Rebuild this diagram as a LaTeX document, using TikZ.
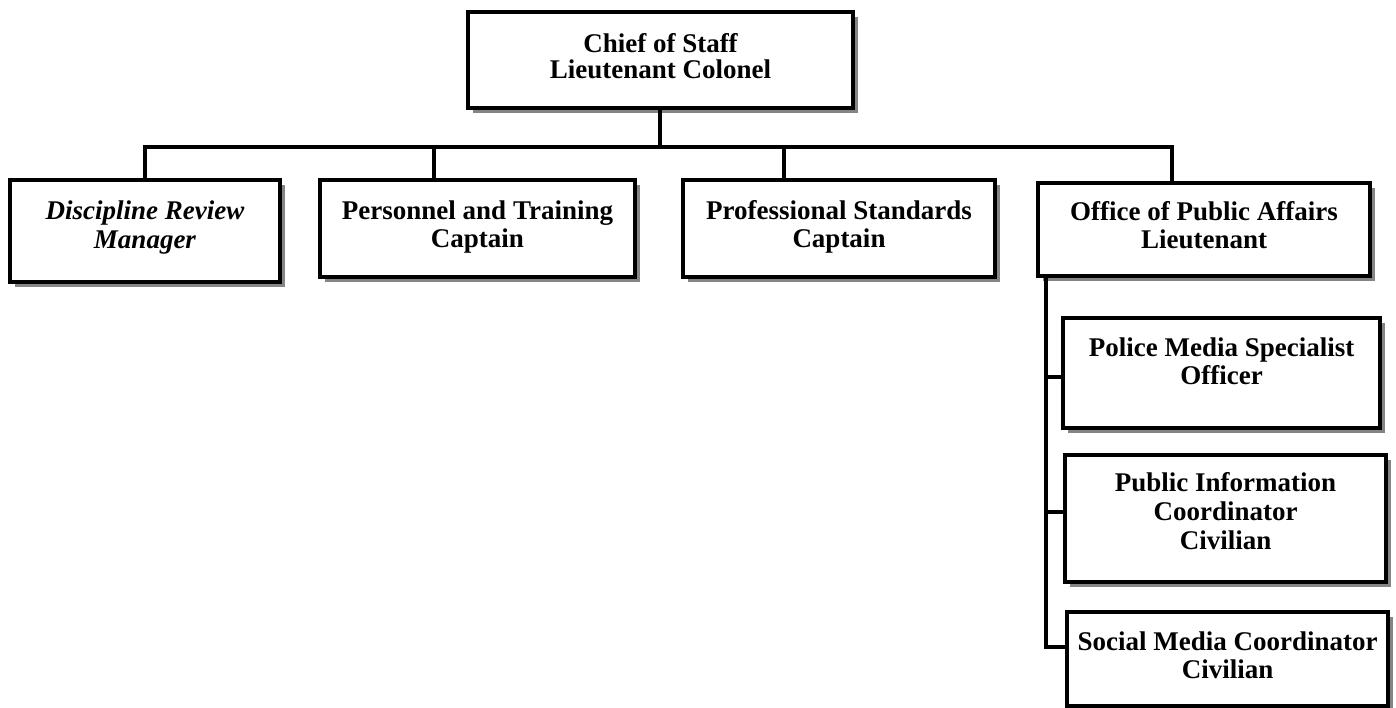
\documentclass[tikz,border=0pt]{standalone}
\usepackage{fontspec}
\setmainfont{Liberation Serif}
\usetikzlibrary{shadows}
\begin{document}
\begin{tikzpicture}[x=1pt,y=-1pt,
  box/.style={draw, line width=3.3pt, fill=white, inner sep=0pt,
    drop shadow={shadow xshift=5pt, shadow yshift=-5pt, fill=black!48, opacity=1}},
  lbl/.style={anchor=north, align=center, inner sep=0pt,
    font=\fontsize{27}{28}\selectfont\bfseries},
  conn/.style={line width=3.4pt}]
\useasboundingbox (0,0) rectangle (1396,708);
% boxes
\node[box, minimum width=385pt, minimum height=96pt] (chief) at (660.5,60) {};
\node[box, minimum width=270pt, minimum height=102pt] (disc) at (145,231) {};
\node[box, minimum width=315pt, minimum height=97pt] (pers) at (477.5,228.5) {};
\node[box, minimum width=312pt, minimum height=97pt] (prof) at (839,228.5) {};
\node[box, minimum width=332pt, minimum height=93pt] (opa) at (1204,229.5) {};
\node[box, minimum width=317pt, minimum height=110pt] (police) at (1221.5,373) {};
\node[box, minimum width=321pt, minimum height=127pt] (pubinfo) at (1225.5,518.5) {};
\node[box, minimum width=321pt, minimum height=94pt] (social) at (1227.5,659) {};
% labels
\node[lbl, font=\fontsize{27}{26}\selectfont\bfseries] (tchief) at ([yshift=-23pt]chief.north) {Chief of Staff\\Lieutenant Colonel};
\node[lbl, font=\fontsize{27}{29}\selectfont\bfseries\itshape] (tdisc) at ([yshift=-22pt]disc.north) {Discipline Review\\Manager};
\node[lbl] (tpers) at ([yshift=-22pt]pers.north) {Personnel and Training\\Captain};
\node[lbl] (tprof) at ([yshift=-22pt]prof.north) {Professional Standards\\Captain};
\node[lbl] (topa) at ([yshift=-20pt]opa.north) {Office of Public Affairs\\Lieutenant};
\node[lbl] (tpolice) at ([yshift=-21pt]police.north) {Police Media Specialist\\Officer};
\node[lbl, font=\fontsize{27}{29}\selectfont\bfseries] (tpubinfo) at ([yshift=-19pt]pubinfo.north) {Public Information\\Coordinator\\Civilian};
\node[lbl] (tsocial) at ([yshift=-21pt]social.north) {Social Media Coordinator\\Civilian};
% connector points
\coordinate (bus) at (660,147);
\coordinate (b1) at (145,147);
\coordinate (b2) at (434,147);
\coordinate (b3) at (784,147);
\coordinate (b4) at (1172,147);
\coordinate (s0) at (1046,276);
\coordinate (s1) at (1046,377);
\coordinate (s2) at (1046,512);
\coordinate (s3) at (1046,647);
% connectors
\draw[conn] (chief.south -| bus) -- (bus);
\draw[conn, line cap=rect] (b1) -- (b4);
\draw[conn] (b1) -- (b1 |- disc.north);
\draw[conn] (b2) -- (b2 |- pers.north);
\draw[conn] (b3) -- (b3 |- prof.north);
\draw[conn] (b4) -- (b4 |- opa.north);
\draw[conn] (s0) -- (s3) -- (s3 -| social.west);
\draw[conn] (s1) -- (s1 -| police.west);
\draw[conn] (s2) -- (s2 -| pubinfo.west);
\end{tikzpicture}
\end{document}
